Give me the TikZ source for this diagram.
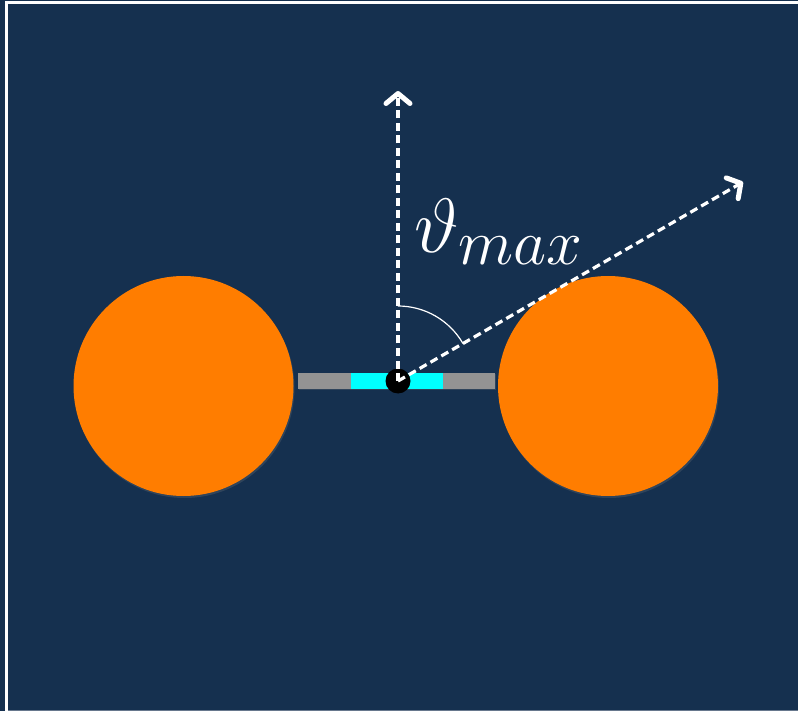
\documentclass[tikz,border=0pt]{standalone}
\usepackage{graphicx}
\usetikzlibrary{arrows.meta,shadows}
\definecolor{navy}{HTML}{15304F}
\definecolor{ball}{HTML}{FF7D00}
\definecolor{rod}{HTML}{939393}
\definecolor{aqua}{HTML}{00FFFF}
\begin{document}
\begin{tikzpicture}[x=1pt,y=-1pt,
  mass/.style={circle,fill=ball,minimum size=220pt,inner sep=0pt,
    drop shadow={opacity=0.25,shadow xshift=1pt,shadow yshift=-2pt}},
  bar/.style={rectangle,inner sep=0pt,minimum height=16pt},
  ray/.style={white,line width=3.2pt,dash pattern=on 8pt off 4.5pt,
    -{Straight Barb[length=10pt,width=24pt,line width=5pt,line cap=round,line join=round]}}]
\fill[navy] (0,0) rectangle (798,711);
\useasboundingbox (0,0) rectangle (798,711);
\draw[white,line width=2.6pt] (6.5,711) -- (6.5,2.5) -- (798,2.5);
\draw[navy!65!white,line width=1.5pt] (8,710.5) -- (798,710.5);
\node[mass] (m1) at (183.5,386) {};
\node[mass] (m2) at (608,386) {};
\node[bar,fill=rod,minimum width=197pt,drop shadow={opacity=0.25,shadow xshift=1pt,shadow yshift=-1pt}] (r) at (396.5,380.5) {};
\node[bar,fill=aqua,minimum width=92pt] (c) at (397,380.5) {};
\node[circle,fill=black,minimum size=25pt,inner sep=0pt] (o) at (398,381) {};
\coordinate (up) at (398,91);
\coordinate (tip) at (743,182);
\draw[ray] (o.center) -- (up);
\draw[ray] (o.center) -- (tip);
\draw[white,line width=1.2pt] (o.center) ++(0,-75) arc[start angle=-90,end angle=-30,radius=75];
\node[white,inner sep=0pt,anchor=base west,font=\Huge] (lab) at (414,253) {\scalebox{3.1}{$\vartheta_{max}$}};
\end{tikzpicture}
\end{document}
